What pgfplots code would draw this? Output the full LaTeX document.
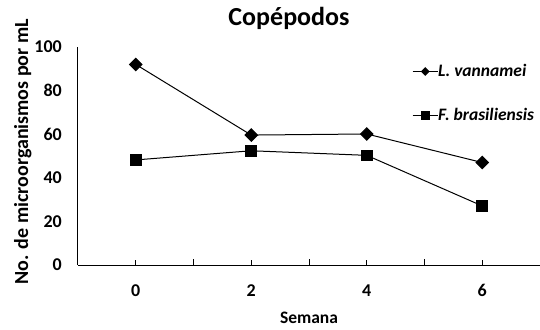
\documentclass[border=0pt]{standalone}
\usepackage{fontspec}
\setmainfont{Carlito}
\usepackage{pgfplots}
\pgfplotsset{compat=1.18}

\begin{document}
\begin{tikzpicture}[x=1pt,y=1pt]
  % fixed canvas
  \path[use as bounding box] (0,0) rectangle (540,329);
  \begin{axis}[
    at={(78pt,64pt)}, anchor=south west,
    scale only axis, width=462pt, height=218pt,
    xmin=-1, xmax=7, ymin=0, ymax=100,
    axis lines*=left,
    axis line style={line width=1pt},
    xtick={0,2,4,6}, minor xtick={1,3,5},
    ytick={0,20,...,100},
    tick align=inside,
    major tick length=4.5pt, minor tick length=5.5pt,
    xtick style={line width=0.8pt,black},
    minor x tick style={line width=0.8pt,black},
    ytick style={draw=none},
    /pgf/number format/assume math mode=true,
    tick label style={font=\fontsize{18}{20}\selectfont\bfseries, inner sep=0pt},
    xticklabel style={anchor=base, yshift=-31pt},
    yticklabel style={anchor=east, xshift=-16pt},
    xlabel={Semana},
    ylabel={No. de microorganismos por mL},
    xlabel style={font=\fontsize{17.5}{19}\selectfont\bfseries,
      at={(axis description cs:0.5,0)}, anchor=base, yshift=-58pt, inner sep=0pt},
    ylabel style={font=\fontsize{20}{22}\selectfont\bfseries,
      at={(axis description cs:-0.1082,0.52)}, anchor=base, inner sep=0pt},
    title={Copépodos},
    title style={font=\fontsize{26}{28}\selectfont\bfseries,
      at={(axis description cs:0.4567,1)}, anchor=base, yshift=15pt, inner sep=0pt},
    legend style={draw=none, fill=none, at={(0.723,0.92)}, anchor=north west,
      font=\fontsize{17.5}{19}\selectfont\bfseries\itshape,
      inner sep=0pt, nodes={inner sep=0pt}, column sep=0pt,
      row sep=30pt},
    legend cell align=left,
    legend image code/.code={
      \draw[line width=1pt] (0pt,0pt) -- (25pt,0pt);
      \path[#1] plot coordinates {(12.5pt,0pt)};
    },
  ]
    \addplot[black, line width=1pt, mark=square*, mark size=4.4pt,
      mark options={solid, fill=black, rotate=45},
      legend image post style={mark size=2.6pt}]
      coordinates {(0,92) (2,59.6) (4,60.1) (6,47)};
    \addlegendentry{L. vannamei}
    \addplot[black, line width=1pt, mark=square*, mark size=5.3pt,
      mark options={solid, fill=black},
      legend image post style={mark size=3.8pt}]
      coordinates {(0,48.2) (2,52.4) (4,50.3) (6,27.1)};
    \addlegendentry{F. brasiliensis}
  \end{axis}
\end{tikzpicture}
\end{document}
